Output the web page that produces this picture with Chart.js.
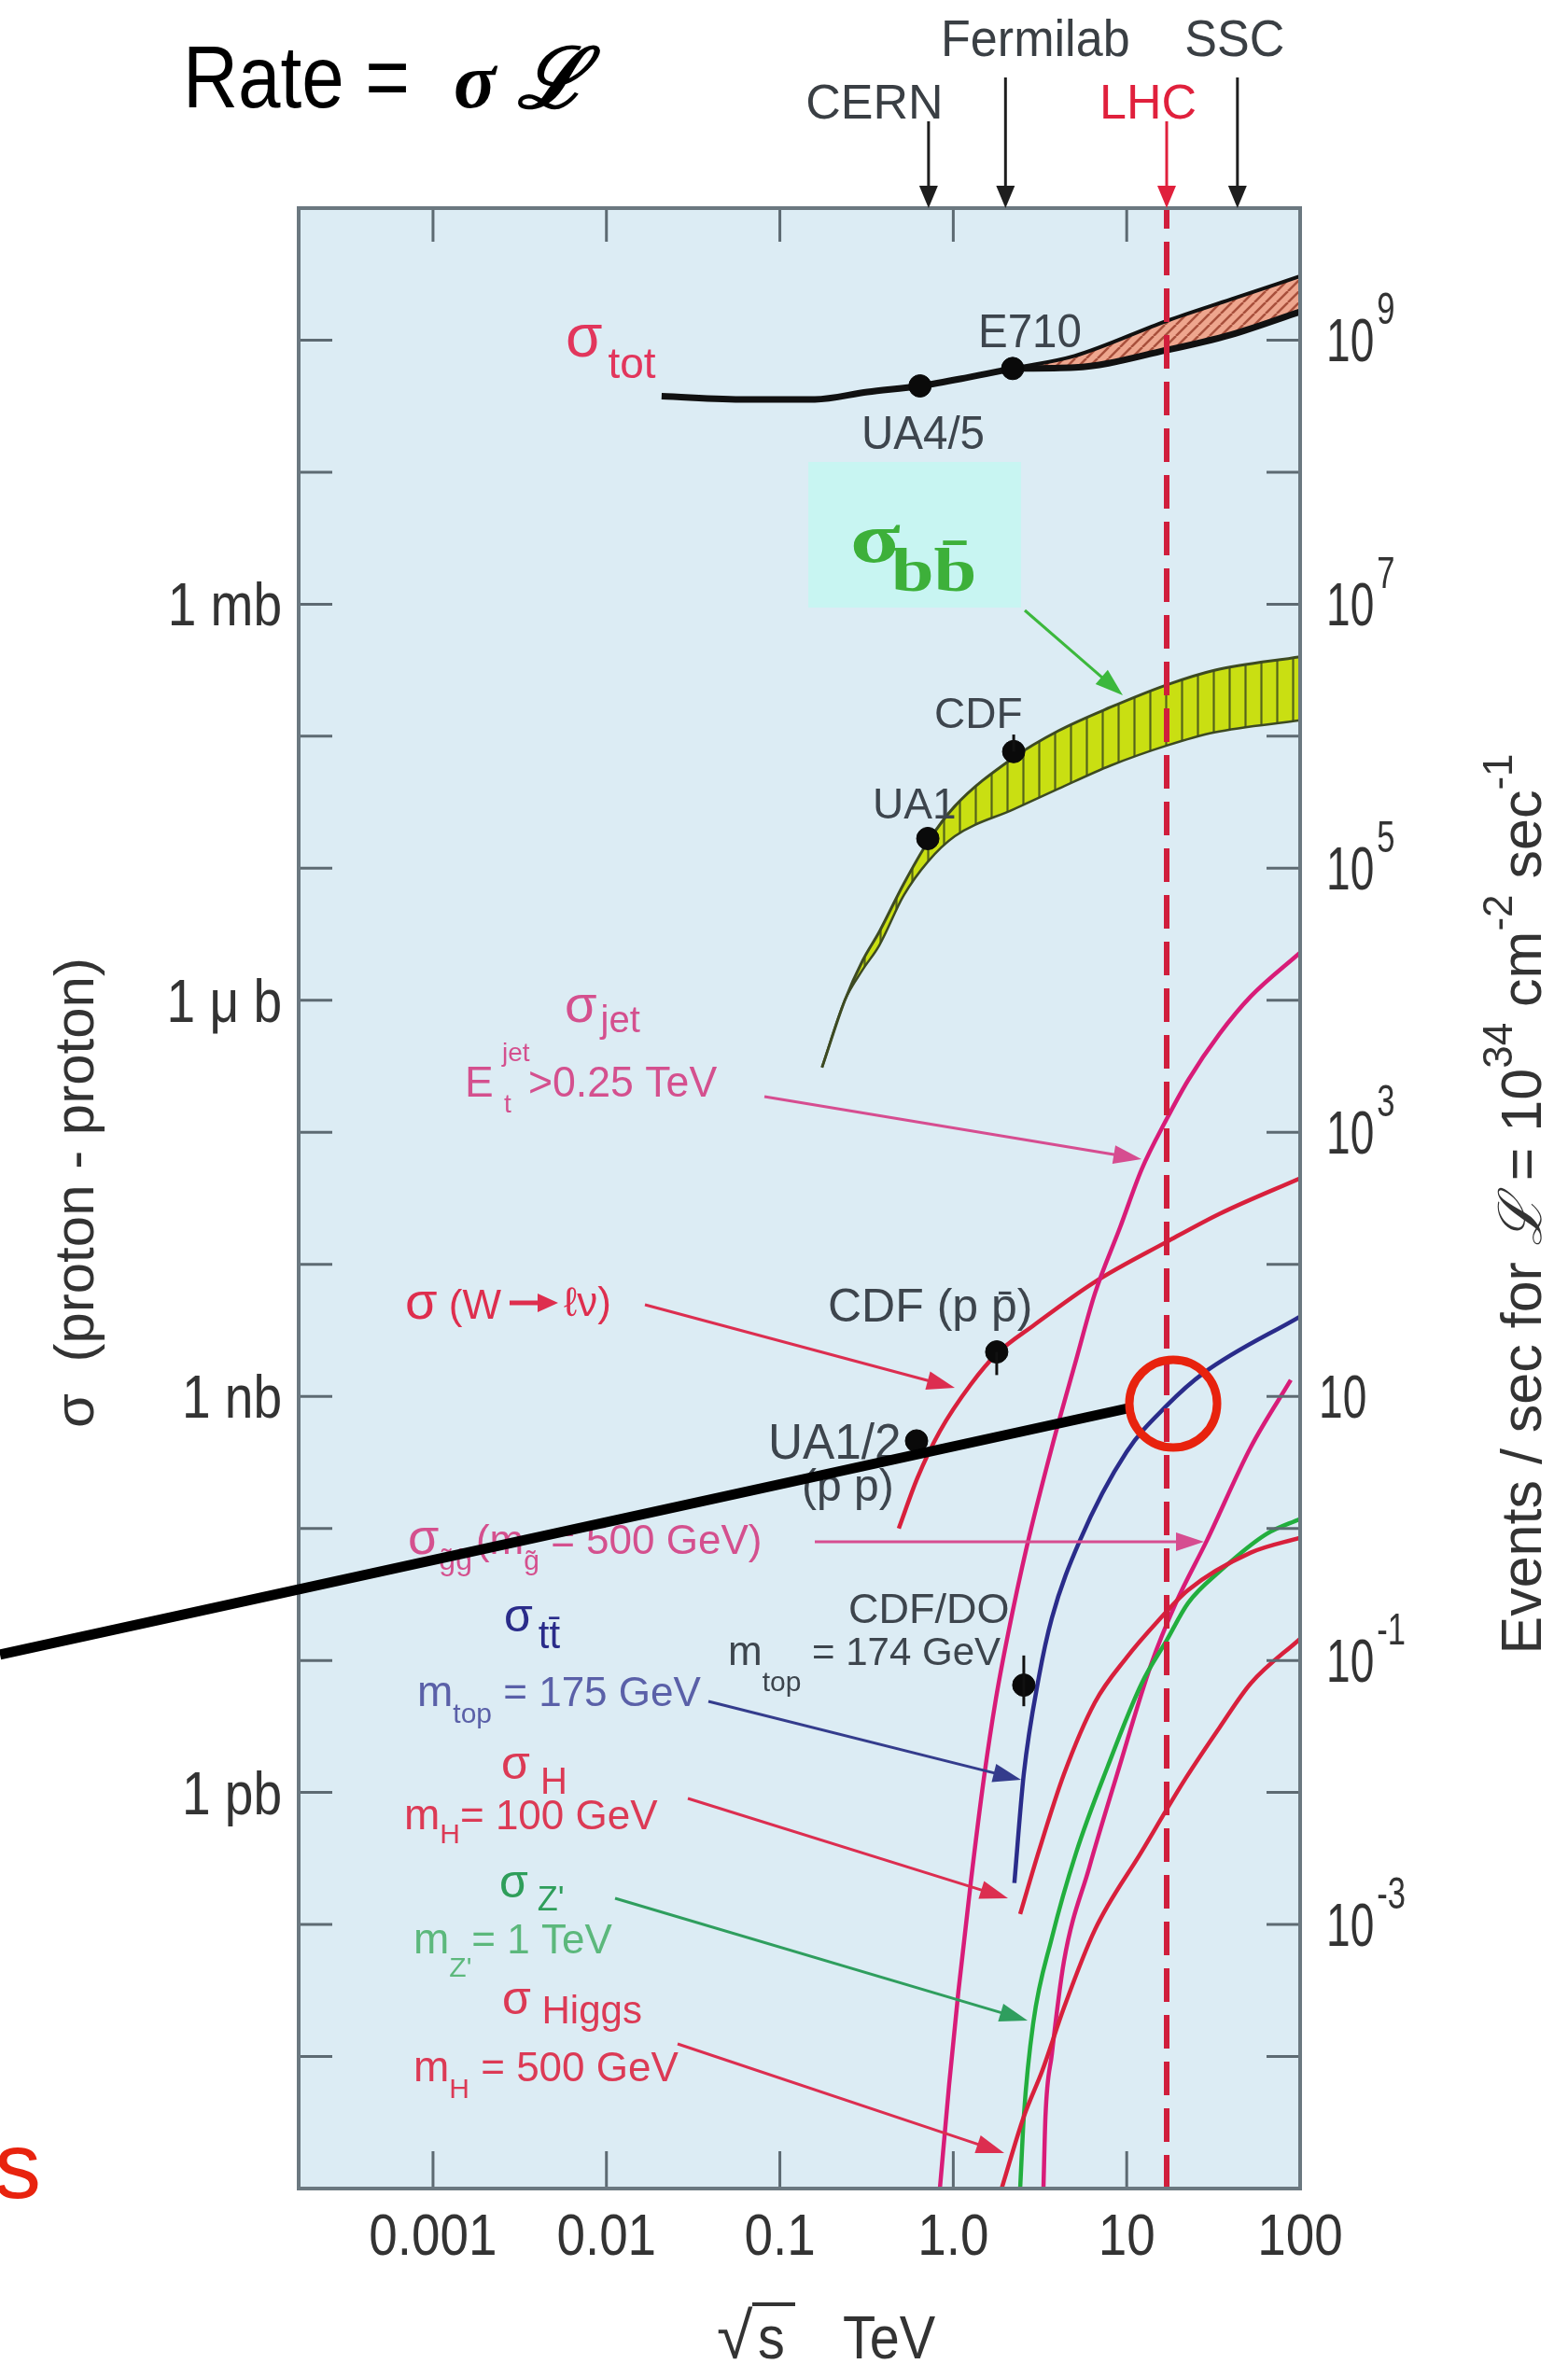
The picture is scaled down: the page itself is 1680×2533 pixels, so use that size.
<!DOCTYPE html>
<html><head><meta charset="utf-8">
<script src="https://cdn.jsdelivr.net/npm/chart.js@4.4.1/dist/chart.umd.min.js"></script>
<style>html,body{margin:0;padding:0;background:#fff;}canvas{display:block;}</style>
</head><body>
<canvas id="c" width="1680" height="2533" style="width:1680px;height:2533px"></canvas>
<script>
// ---------------- data ----------------
const xTickVals   = [0.001, 0.01, 0.1, 1, 10, 100];
const xTickLabels = ['0.001', '0.01', '0.1', '1.0', '10', '100'];
const yLeftVals   = [1e7, 1e4, 10, 1e-2];
const yLeftLabels = ['1 mb', '1 μ b', '1 nb', '1 pb'];
const yRightVals  = [1e9, 1e7, 1e5, 1e3, 10, 1e-1, 1e-3];
const yRightExp   = ['9', '7', '5', '3', '', '-1', '-3'];
const machineNames  = ['CERN', 'Fermilab', 'LHC', 'SSC'];
const machineEnergy = [0.72, 2.0, 17, 43.5];

// sigma_tot (events/sec at L = 1e34)
const totX = [0.0208, 0.064, 0.159, 0.32, 0.643, 1.2, 2.2];
const totY = [3.76e8, 3.55e8, 3.56e8, 4.05e8, 4.5e8, 5.2e8, 6.1e8];
const totBandX  = [2.2, 5, 17, 40, 100];
const totBandHi = [6.1e8, 7.6e8, 1.4e9, 2.04e9, 3.05e9];
const totBandLo = [6.1e8, 6.2e8, 8.4e8, 1.1e9, 1.64e9];
// sigma_bb band
const bbX  = [0.175, 0.237, 0.3, 0.374, 0.517, 0.713, 1.02, 2.23, 4.04, 8.08, 17, 32, 100];
const bbHi = [3.1e3, 1.0e4, 2.0e4, 3.3e4, 7.6e4, 1.58e5, 2.95e5, 6.9e5, 1.1e6, 1.66e6, 2.45e6, 3.16e6, 4.0e6];
const bbLo = [3.1e3, 1.0e4, 1.7e4, 2.6e4, 6.2e4, 1.12e5, 1.75e5, 2.8e5, 4.0e5, 6.0e5, 8.5e5, 1.07e6, 1.32e6];
// sigma_jet (Et > 0.25 TeV)
const jetX = [0.837, 0.946, 1.07, 1.26, 1.50, 1.76, 2.07, 2.65, 3.70, 5.05, 6.55, 9.15, 12.2, 17.0, 22.6, 34.4, 51.9, 100];
const jetY = [1e-5, 6.1e-5, 3.1e-4, 2.06e-3, 0.0127, 0.051, 0.159, 0.72, 4.1, 17.9, 60, 190, 525, 1260, 2480, 5600, 1.07e4, 2.3e4];
// sigma(W -> l nu)
const wX = [0.485, 0.621, 0.837, 1.26, 1.78, 2.89, 6.55, 17.0, 34.4, 100];
const wY = [1.0, 2.41, 5.45, 12.3, 21.0, 34.3, 73.6, 148, 242, 449];
// sigma_ttbar (mtop = 175 GeV)
const ttX = [2.25, 2.55, 3.11, 3.70, 5.37, 9.98, 17.0, 27.9, 100];
const ttY = [2.06e-3, 0.0138, 0.074, 0.209, 0.81, 3.8, 8.5, 15.1, 40.3];
// sigma_H (mH = 100 GeV)
const hX = [2.43, 3.11, 4.35, 6.55, 9.98, 15.0, 22.6, 51.9, 100];
const hY = [1.2e-3, 3.57e-3, 0.0138, 0.048, 0.105, 0.196, 0.341, 0.655, 0.85];
// sigma_Z' (mZ' = 1 TeV)
const zpX = [2.43, 2.55, 2.89, 3.70, 5.11, 7.78, 12.2, 17.0, 22.6, 34.4, 64, 100];
const zpY = [1e-5, 3.5e-5, 1.79e-4, 7.9e-4, 3.5e-3, 0.0158, 0.067, 0.142, 0.272, 0.473, 0.908, 1.18];
// sigma_gluino (mg = 500 GeV)
const glX = [3.31, 3.40, 3.70, 4.35, 6.08, 8.81, 13.8, 19.2, 29.0, 51.9, 88.3];
const glY = [1e-5, 3.5e-5, 1.04e-4, 5.3e-4, 2.7e-3, 0.0138, 0.0927, 0.272, 0.81, 4.12, 13.3];
// sigma_Higgs (mH = 500 GeV)
const higgsX = [1.90, 2.55, 3.27, 4.35, 6.55, 12.2, 21.8, 34.4, 51.9, 100];
const higgsY = [1e-5, 3.5e-5, 7.9e-5, 2.35e-4, 9.1e-4, 3.57e-3, 0.0127, 0.0312, 0.067, 0.146];
// LHC energy line
const lhcX = [17, 17];
const lhcY = [1e-5, 1e10];
// measured points: UA4/5, E710, UA1, CDF, UA1/2, CDF(ppbar), CDF/D0
const ptX = [0.643, 2.2, 0.713, 2.23, 0.614, 1.78, 2.55];
const ptY = [4.5e8, 6.1e8, 1.68e5, 7.65e5, 4.6, 21.7, 0.065];
const errX  = [2.23, 1.78, 2.55];
const errLo = [7.65e5, 14.5, 0.045];
const errHi = [1.03e6, 21.7, 0.109];

// ---------------- styling ----------------
const XMIN = 1.68e-4, XMAX = 100, YMIN = 1e-5, YMAX = 1e10;
const SANS = '"Liberation Sans", Arial, Helvetica, sans-serif';
const SERIF = '"Liberation Serif", "DejaVu Serif", serif';
const PLOT_BG = '#dcecf4';
const GRAY = '#3d454d';
const PINK = '#d4508e', MAG = '#d81c78', RED = '#d8203c', RED2 = '#dc3a55';
const NAVY = '#2a2c8a', GREEN = '#22ae3e';

const cv = document.getElementById('c');
const ctx0 = cv.getContext('2d');
function makePattern(bg, fg, size, lw, kind) {
  const c = document.createElement('canvas'); c.width = size; c.height = size;
  const g = c.getContext('2d');
  g.fillStyle = bg; g.fillRect(0, 0, size, size);
  g.strokeStyle = fg; g.lineWidth = lw; g.beginPath();
  if (kind === 'v') { g.moveTo(size / 2, 0); g.lineTo(size / 2, size); }
  else { for (const k of [-size, 0, size]) { g.moveTo(k, size); g.lineTo(k + size, 0); } }
  g.stroke();
  return ctx0.createPattern(c, 'repeat');
}
const bbPattern = makePattern('#c9df12', '#55641a', 17, 2.2, 'v');
const totPattern = makePattern('#eea68e', '#a8503c', 12, 2.5, 'd');

const pts = (xs, ys) => xs.map((x, i) => ({ x, y: ys[i] }));
function curve(label, xs, ys, color, w, order, extra) {
  return Object.assign({ label, data: pts(xs, ys), borderColor: color, borderWidth: w,
    pointRadius: 0, fill: false, cubicInterpolationMode: 'monotone', order }, extra || {});
}

// ---------------- text helpers ----------------
function fontOf(r) { return (r.style || 'normal') + ' ' + (r.weight || 'normal') + ' ' + r.size + 'px ' + (r.family || SANS); }
function R(ctx, x, y, runs, o) {
  o = o || {};
  ctx.save(); ctx.translate(x, y); if (o.rot) ctx.rotate(o.rot);
  let total = 0;
  for (const r of runs) { ctx.font = fontOf(r); total += ctx.measureText(r.t).width * (r.sx || o.sx || 1) + (r.dx || 0); }
  let cx = o.align === 'center' ? -total / 2 : (o.align === 'right' ? -total : 0);
  for (const r of runs) {
    cx += r.dx || 0;
    const sx = r.sx || o.sx || 1;
    ctx.font = fontOf(r);
    const w = ctx.measureText(r.t).width * sx;
    ctx.save(); ctx.translate(cx, r.dy || 0); ctx.scale(sx, 1);
    ctx.fillStyle = r.color || o.color || GRAY; ctx.textAlign = 'left'; ctx.textBaseline = 'alphabetic';
    ctx.fillText(r.t, 0, 0); ctx.restore();
    cx += w;
  }
  ctx.restore();
  return total;
}
function T(ctx, s, x, y, o) { return R(ctx, x, y, [Object.assign({ t: s }, o)], { align: o.align, rot: o.rot }); }
function arrow(ctx, x1, y1, x2, y2, color, lw, head, hw) {
  lw = lw || 3; head = head || 30; hw = hw || 10;
  const a = Math.atan2(y2 - y1, x2 - x1), c = Math.cos(a), s = Math.sin(a);
  ctx.save(); ctx.strokeStyle = color; ctx.fillStyle = color; ctx.lineWidth = lw;
  ctx.beginPath(); ctx.moveTo(x1, y1); ctx.lineTo(x2 - head * 0.8 * c, y2 - head * 0.8 * s); ctx.stroke();
  ctx.beginPath(); ctx.moveTo(x2, y2);
  ctx.lineTo(x2 - head * c + hw * s, y2 - head * s - hw * c);
  ctx.lineTo(x2 - head * c - hw * s, y2 - head * s + hw * c);
  ctx.closePath(); ctx.fill(); ctx.restore();
}

// ---------------- decoration plugin ----------------
const deco = {
  id: 'deco',
  beforeDraw(chart) {
    const { ctx, chartArea: a } = chart;
    ctx.save();
    ctx.fillStyle = '#ffffff'; ctx.fillRect(0, 0, chart.width, chart.height);
    ctx.fillStyle = PLOT_BG; ctx.fillRect(a.left, a.top, a.right - a.left, a.bottom - a.top);
    ctx.fillStyle = '#c8f5f2'; ctx.fillRect(866, 495, 228, 156);
    ctx.restore();
  },
  afterDatasetsDraw(chart) {
    const { ctx, chartArea: a } = chart;
    const xs = chart.scales.x, ys = chart.scales.y, y2 = chart.scales.y2;
    ctx.save();
    // error bars on measured points
    ctx.strokeStyle = '#111'; ctx.lineWidth = 3;
    errX.forEach((x, i) => {
      const px = xs.getPixelForValue(x);
      ctx.beginPath(); ctx.moveTo(px, ys.getPixelForValue(errLo[i])); ctx.lineTo(px, ys.getPixelForValue(errHi[i])); ctx.stroke();
    });
    // inside tick marks
    ctx.strokeStyle = '#5d6a72'; ctx.lineWidth = 3;
    for (let e = -4; e <= 9; e++) {
      const py = ys.getPixelForValue(Math.pow(10, e));
      ctx.beginPath(); ctx.moveTo(a.left, py); ctx.lineTo(a.left + 36, py);
      ctx.moveTo(a.right - 36, py); ctx.lineTo(a.right, py); ctx.stroke();
    }
    xTickVals.slice(0, 5).forEach(v => {
      const px = xs.getPixelForValue(v);
      ctx.beginPath(); ctx.moveTo(px, a.bottom); ctx.lineTo(px, a.bottom - 40);
      ctx.moveTo(px, a.top); ctx.lineTo(px, a.top + 36); ctx.stroke();
    });
    // frame
    ctx.strokeStyle = '#6b7880'; ctx.lineWidth = 4;
    ctx.strokeRect(a.left, a.top, a.right - a.left, a.bottom - a.top);

    // tick labels (positions from the library scales)
    xTickVals.forEach((v, i) => {
      T(ctx, xTickLabels[i], xs.getPixelForValue(v), a.bottom + 71, { size: 63, sx: 0.87, color: '#333', align: 'center' });
    });
    yLeftVals.forEach((v, i) => {
      T(ctx, yLeftLabels[i], a.left - 18, ys.getPixelForValue(v) + 23, { size: 64, sx: 0.86, color: '#333', align: 'right' });
    });
    yRightVals.forEach((v, i) => {
      const py = y2.getPixelForValue(v);
      const runs = [{ t: '10', size: 64, sx: 0.72, color: '#333' }];
      if (yRightExp[i]) runs.push({ t: yRightExp[i], size: 48, sx: 0.72, dy: -40, dx: 3, color: '#333' });
      R(ctx, a.right + (yRightExp[i] ? 28 : 20), py + 23, runs);
    });

    // machines above the plot
    machineNames.forEach((n, i) => {
      const px = xs.getPixelForValue(machineEnergy[i]);
      const isL = n === 'LHC';
      const col = isL ? '#e0203c' : '#1e1e1e';
      const top = (n === 'Fermilab' || n === 'SSC') ? 83 : 130;
      arrow(ctx, px, top, px, a.top, col, 3, 24, 10);
      if (n === 'Fermilab' || n === 'SSC') T(ctx, n, px + (n === 'SSC' ? -3 : 32), 60, { size: 56, sx: 0.93, color: '#3a3f44', align: 'center' });
      else T(ctx, n, px - (isL ? 20 : 58), 127, { size: 52, color: isL ? '#e0203c' : '#3a3f44', align: 'center' });
    });

    // title
    R(ctx, 196, 115, [{ t: 'Rate = ', size: 95, sx: 0.86, color: '#000' }]);
    R(ctx, 486, 115, [{ t: 'σ', size: 84, weight: 'bold', style: 'italic', family: SERIF, color: '#000' },
                      { t: ' ℒ', size: 90, weight: 'bold', style: 'italic', family: SERIF, color: '#000' }]);

    // axis titles
    T(ctx, 'σ  (proton - proton)', 100, 1278, { size: 60, color: '#333', align: 'center', rot: -Math.PI / 2 });
    R(ctx, 1651, 1290, [
      { t: 'Events / sec for ', size: 61 }, { t: 'ℒ', size: 64, family: SERIF, style: 'italic' },
      { t: ' = 10', size: 61 }, { t: '34', size: 44, dy: -31 },
      { t: ' cm', size: 61 }, { t: '-2', size: 44, dy: -31 },
      { t: ' sec', size: 61 }, { t: '-1', size: 44, dy: -31 }
    ], { rot: -Math.PI / 2, align: 'center', color: '#333' });
    T(ctx, '√', 768, 2527, { size: 70, color: '#333' });
    T(ctx, 's', 812, 2527, { size: 64, sx: 0.9, color: '#333' });
    ctx.strokeStyle = '#333'; ctx.lineWidth = 4;
    ctx.beginPath(); ctx.moveTo(806, 2469); ctx.lineTo(852, 2469); ctx.stroke();
    T(ctx, 'TeV', 903, 2527, { size: 64, sx: 0.9, color: '#333' });

    // point labels
    T(ctx, 'E710', 1048, 372, { size: 50, sx: 0.95 });
    T(ctx, 'UA4/5', 923, 481, { size: 50, sx: 0.95 });
    T(ctx, 'CDF', 1001, 780, { size: 46 });
    T(ctx, 'UA1', 935, 877, { size: 46 });
    T(ctx, 'CDF (p p̄)', 887, 1416, { size: 50 });
    T(ctx, 'UA1/2', 823, 1563, { size: 54, sx: 0.95 });
    T(ctx, '(p p)', 859, 1608, { size: 48 });
    T(ctx, 'CDF/DO', 909, 1739, { size: 45 });
    R(ctx, 780, 1784, [{ t: 'm', size: 44 }, { t: 'top', size: 30, dy: 28 }, { t: ' = 174 GeV', size: 42 }]);

    // curve labels
    R(ctx, 606, 382, [{ t: 'σ', size: 64, color: '#e2365c' }, { t: 'tot', size: 46, dy: 23, dx: 6, color: '#e2365c' }]);
    R(ctx, 911, 602, [{ t: 'σ', size: 76, sx: 1.3, weight: 'bold', family: SERIF, color: '#3db03a' },
                      { t: 'bb̄', size: 66, sx: 1.25, weight: 'bold', family: SERIF, dy: 31, dx: -10, color: '#3db03a' }]);
    R(ctx, 605, 1095, [{ t: 'σ', size: 56, color: PINK }, { t: 'jet', size: 40, dy: 11, dx: 4, color: PINK }]);
    R(ctx, 498, 1175, [{ t: 'E', size: 46, color: PINK }]);
    T(ctx, 'jet', 538, 1137, { size: 28, color: PINK });
    T(ctx, 't', 540, 1192, { size: 28, color: PINK });
    T(ctx, '>0.25 TeV', 566, 1175, { size: 46, sx: 0.97, color: PINK });

    R(ctx, 434, 1413, [{ t: 'σ', size: 56, color: '#de2e4e' }, { t: ' (W', size: 44, color: '#de2e4e' }]);
    arrow(ctx, 546, 1396, 598, 1396, '#de2e4e', 5, 22, 10);
    T(ctx, 'ℓν)', 604, 1410, { size: 44, color: '#de2e4e' });

    R(ctx, 437, 1665, [{ t: 'σ', size: 54, color: PINK }, { t: 'g̃g̃', size: 32, dy: 17, color: PINK },
                       { t: '(m', size: 44, dx: 4, color: PINK }, { t: 'g̃', size: 30, dy: 17, color: PINK },
                       { t: ' = 500 GeV)', size: 44, color: PINK }]);
    R(ctx, 540, 1748, [{ t: 'σ', size: 50, color: NAVY }, { t: 'tt̄', size: 42, dy: 18, dx: 6, color: NAVY }]);
    R(ctx, 447, 1828, [{ t: 'm', size: 46, color: '#5a60a8' }, { t: 'top', size: 30, dy: 18, color: '#5a60a8' },
                       { t: ' = 175 GeV', size: 44, color: '#5a60a8' }]);
    R(ctx, 537, 1906, [{ t: 'σ', size: 50, color: RED2 }, { t: ' H', size: 40, dy: 16, color: RED2 }]);
    R(ctx, 433, 1960, [{ t: 'm', size: 46, color: RED2 }, { t: 'H', size: 30, dy: 15, color: RED2 }, { t: '= 100 GeV', size: 44, color: RED2 }]);
    R(ctx, 535, 2033, [{ t: 'σ', size: 50, color: '#2e9e5a' }, { t: " Z'", size: 36, dy: 14, color: '#2e9e5a' }]);
    R(ctx, 443, 2093, [{ t: 'm', size: 46, color: '#5cb87c' }, { t: "Z'", size: 30, dy: 25, color: '#5cb87c' }, { t: '= 1 TeV', size: 44, color: '#5cb87c' }]);
    R(ctx, 538, 2158, [{ t: 'σ', size: 50, color: RED2 }, { t: ' Higgs', size: 42, dy: 10, color: RED2 }]);
    R(ctx, 443, 2230, [{ t: 'm', size: 46, color: RED2 }, { t: 'H', size: 30, dy: 18, color: RED2 }, { t: ' = 500 GeV', size: 44, color: RED2 }]);

    // pointer arrows
    arrow(ctx, 1098, 654, 1203, 745, '#3cb83c', 3);
    arrow(ctx, 819, 1175, 1223, 1242, '#d64d90', 3);
    arrow(ctx, 691, 1398, 1023, 1487, '#dc2e50', 3);
    arrow(ctx, 873, 1652, 1290, 1652, '#d64d90', 3);
    arrow(ctx, 759, 1823, 1094, 1907, '#343c8c', 3);
    arrow(ctx, 737, 1927, 1080, 2034, '#dc2e50', 3);
    arrow(ctx, 659, 2034, 1101, 2165, '#2f9e5e', 3);
    arrow(ctx, 726, 2190, 1076, 2307, '#dc2e50', 3);

    // overlay annotation: pointer line and circle
    ctx.strokeStyle = '#000'; ctx.lineWidth = 11; ctx.lineCap = 'butt';
    ctx.beginPath(); ctx.moveTo(0, 1773); ctx.lineTo(1213, 1508); ctx.stroke();
    ctx.strokeStyle = '#e8230e'; ctx.lineWidth = 9;
    ctx.beginPath(); ctx.arc(1257, 1504, 47, 0, Math.PI * 2); ctx.stroke();
    T(ctx, 's', -6, 2355, { size: 100, color: '#e8230e' });
    ctx.restore();
  }
};

// ---------------- chart ----------------
new Chart(cv, {
  type: 'line',
  data: {
    datasets: [
      curve('σbb lower', bbX, bbLo, '#3d4a22', 2.5, 20),
      curve('σbb upper', bbX, bbHi, '#3d4a22', 3, 19, { fill: '-1', backgroundColor: bbPattern }),
      curve('σtot band lower', totBandX, totBandLo, '#111', 7, 18),
      curve('σtot band upper', totBandX, totBandHi, '#111', 4, 17, { fill: '-1', backgroundColor: totPattern }),
      curve('σtot', totX, totY, '#111', 7, 16),
      curve('σjet', jetX, jetY, MAG, 4.5, 10),
      curve('σW', wX, wY, RED, 4.5, 10),
      curve('σgluino', glX, glY, MAG, 4.5, 10),
      curve('σtt', ttX, ttY, NAVY, 4.5, 9),
      curve('σZ\'', zpX, zpY, GREEN, 4.5, 9),
      curve('σH 100', hX, hY, RED, 4.5, 8),
      curve('σHiggs 500', higgsX, higgsY, RED, 4.5, 8),
      { label: 'LHC', data: pts(lhcX, lhcY), borderColor: '#d01e3c', borderWidth: 6, borderDash: [36, 14],
        pointRadius: 0, fill: false, tension: 0, order: 3 },
      { label: 'data', data: pts(ptX, ptY), showLine: false, pointRadius: 12, pointBackgroundColor: '#0a0a0a',
        pointBorderColor: '#0a0a0a', pointBorderWidth: 1, order: 1 }
    ]
  },
  options: {
    responsive: false, animation: false, devicePixelRatio: 1,
    layout: { padding: { top: 223, left: 0, right: 0, bottom: 0 } },
    plugins: { legend: { display: false }, tooltip: { enabled: false }, filler: { drawTime: 'beforeDatasetsDraw' } },
    scales: {
      x: {
        type: 'logarithmic', position: 'bottom', min: XMIN, max: XMAX,
        grid: { display: false, drawTicks: false }, border: { display: false },
        afterBuildTicks: s => { s.ticks = xTickVals.map(v => ({ value: v })); },
        afterFit: s => { s.height = 188; },
        ticks: { display: false, autoSkip: false, callback: (v, i) => xTickLabels[i] }
      },
      y: {
        type: 'logarithmic', position: 'left', min: YMIN, max: YMAX,
        grid: { display: false, drawTicks: false }, border: { display: false },
        afterBuildTicks: s => { s.ticks = yLeftVals.map(v => ({ value: v })); },
        afterFit: s => { s.width = 320; },
        ticks: { display: false, autoSkip: false, callback: (v, i) => yLeftLabels[i] }
      },
      y2: {
        type: 'logarithmic', position: 'right', min: YMIN, max: YMAX,
        grid: { display: false, drawTicks: false }, border: { display: false },
        afterBuildTicks: s => { s.ticks = yRightVals.map(v => ({ value: v })); },
        afterFit: s => { s.width = 287; },
        ticks: { display: false }
      }
    }
  },
  plugins: [deco]
});
</script>
</body></html>
